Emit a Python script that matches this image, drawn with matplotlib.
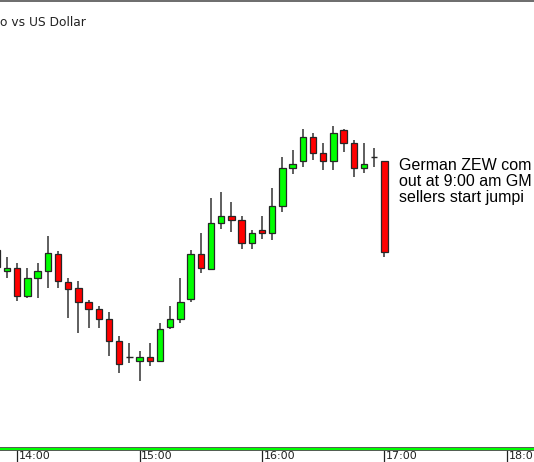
import matplotlib
matplotlib.use("Agg")
import matplotlib.pyplot as plt

# 5-minute EUR/USD candles, time in minutes from 14:00 (first one is cut by the left edge)
minutes = list(range(-10, 181, 5))
opens = [212, 191, 194, 166, 184, 191, 208, 180, 174, 160, 153, 143, 121, 105, 101, 105, 101, 135, 143, 163,
         208, 193, 239, 246, 242, 219, 232, 229, 256, 294, 301, 325, 309, 301, 332, 319, 294, 305, 301]
highs = [212, 205, 199, 194, 199, 226, 211, 184, 181, 162, 156, 150, 126, 119, 111, 119, 139, 156, 184, 212,
         229, 264, 270, 260, 246, 232, 246, 274, 305, 312, 333, 329, 319, 336, 333, 322, 319, 314, 301]
lows = [195, 184, 161, 164, 164, 174, 174, 144, 129, 134, 134, 106, 89, 99, 81, 96, 101, 133, 139, 160,
        189, 192, 233, 230, 213, 213, 223, 222, 250, 288, 295, 302, 292, 292, 310, 285, 289, 295, 205]
closes = [195, 194, 166, 184, 191, 209, 181, 173, 160, 153, 143, 121, 98, 105, 105, 101, 133, 143, 160, 208,
          194, 239, 246, 242, 219, 229, 229, 256, 294, 298, 325, 309, 301, 329, 319, 294, 298, 305, 210]

tick_minutes = [0, 60, 120, 180, 240]
tick_labels = ["14:00", "15:00", "16:00", "17:00", "18:0"]

title = "o vs US Dollar"
note_lines = ["German ZEW com", "out at 9:00 am GM", "sellers start jumpi"]

W, H = 534, 462
fig = plt.figure(figsize=(W / 100, H / 100), dpi=100, facecolor="white")
ax = fig.add_axes([0, 13 / H, 1, 448 / H])
ax.set_xlim(-8.43, 253.33)
ax.set_ylim(13, 461)

edge = "#262626"
ax.vlines(minutes, lows, highs, color="#333333", lw=1.1, zorder=1)

for m, o, c in zip(minutes, opens, closes):
    if o == c:
        ax.hlines(o, m - 1.6, m + 1.6, color=edge, lw=1.0, zorder=2)
        continue
    col = "#00ff00" if c > o else "#ff0000"
    ax.bar(m, abs(c - o), bottom=min(o, c), width=3.2, color=col,
           edgecolor=edge, linewidth=0.9, zorder=2)

for s in ["left", "right", "bottom"]:
    ax.spines[s].set_visible(False)
ax.spines["top"].set_color("#444444")
ax.spines["top"].set_linewidth(1.1)

# green baseline with dark outline
ax.axhline(13, color="#505050", lw=2.8, clip_on=False, zorder=3)
ax.axhline(13, color="#00ff00", lw=1.5, clip_on=False, zorder=4)

ax.set_yticks([])
ax.set_xticks(tick_minutes)
ax.tick_params(axis="x", direction="out", length=9, width=0.9, color="#222222",
               labelbottom=False)
for m, lab in zip(tick_minutes, tick_labels):
    ax.annotate(lab, xy=(m, 0), xycoords=("data", "axes fraction"),
                xytext=(1.2, -1.2), textcoords="offset points",
                ha="left", va="top", fontsize=8, color="#222222")

fig.text(0, 1 - 26 / H, title, ha="left", va="baseline", fontsize=8.8, color="#222222")

for k, line in enumerate(note_lines):
    fig.text(399 / W, 1 - (170 + 16 * k) / H, line, ha="left", va="baseline",
             fontsize=11.5, family="Liberation Sans", color="black")

fig.savefig("out.png", dpi=100, facecolor="white")
